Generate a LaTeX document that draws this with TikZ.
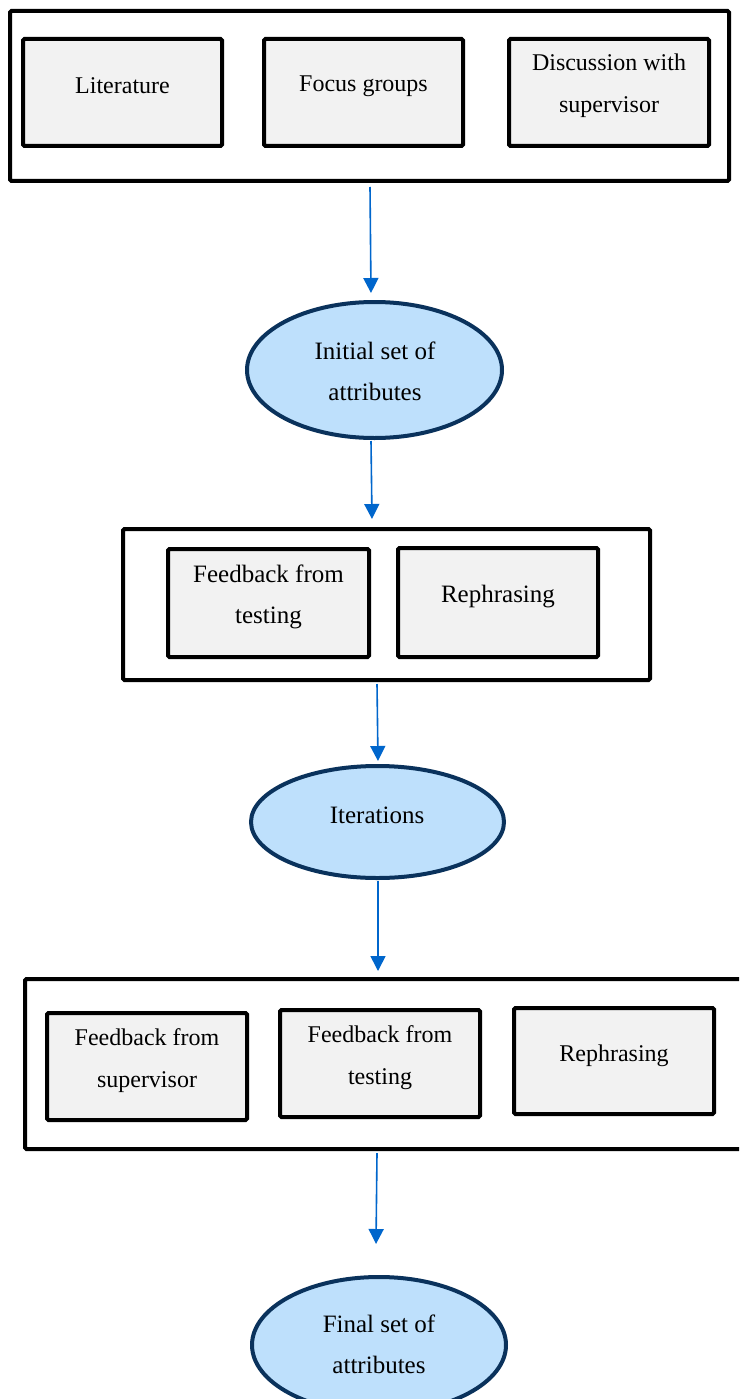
\documentclass[tikz,border=0pt]{standalone}
\usepackage{fontspec}
\setmainfont{Liberation Serif}
\usetikzlibrary{shapes.geometric,arrows.meta}
\definecolor{boxfill}{RGB}{242,242,242}
\definecolor{ellfill}{RGB}{190,224,252}
\definecolor{elldraw}{RGB}{10,50,92}
\definecolor{arrblue}{RGB}{0,102,204}
\begin{document}
\begin{tikzpicture}[x=1pt,y=-1pt,
  outerbox/.style={draw=black, line width=4pt, rounded corners=1.5pt, fill=white, inner sep=0pt},
  innerbox/.style={draw=black, line width=4pt, rounded corners=1.5pt, fill=boxfill, inner sep=0pt},
  oval/.style={ellipse, draw=elldraw, fill=ellfill, line width=4pt, inner sep=0pt},
  btxt/.style={align=center, inner sep=0pt, font=\fontsize{24}{42}\selectfont},
  ctxt/.style={align=center, inner sep=0pt, font=\fontsize{25}{41}\selectfont},
  arr/.style={draw=arrblue, line width=1.6pt, -{Triangle[length=15pt,width=15pt]}}
]
\clip (0,0) rectangle (739,1399);
\fill[white] (0,0) rectangle (739,1399);

% ---- top group
\node[outerbox, minimum width=719pt, minimum height=170pt] (g1) at (369.5,96) {};
\node[innerbox, minimum width=199pt, minimum height=107pt] (lit) at (122.5,92.5) {};
\node[innerbox, minimum width=199pt, minimum height=107pt] (foc) at (363.5,92.5) {};
\node[innerbox, minimum width=200pt, minimum height=107pt] (dis) at (609,92.5) {};
\node[btxt] (tlit) at (122.5,86) {Literature};
\node[btxt] (tfoc) at (363.5,86) {Focus groups};
\node[btxt] (tdis) at (609,86) {Discussion with\\supervisor};

% ---- ellipse 1
\node[oval, minimum width=255pt, minimum height=136pt] (e1) at (374.5,370) {};
\node[ctxt] (te1) at (375,371.5) {Initial set of\\attributes};

% ---- middle group
\node[outerbox, minimum width=527pt, minimum height=151pt] (g2) at (386.5,604.5) {};
\node[innerbox, minimum width=201pt, minimum height=108pt] (fbt1) at (268.5,603) {};
\node[innerbox, minimum width=200pt, minimum height=109pt] (reph1) at (498,602.5) {};
\node[ctxt] (tfbt1) at (268.5,597) {Feedback from\\testing};
\node[ctxt] (treph1) at (498,597) {Rephrasing};

% ---- ellipse 2
\node[oval, minimum width=253pt, minimum height=112pt] (e2) at (377.5,822) {};
\node[ctxt] (te2) at (377,815) {Iterations};

% ---- bottom group
\node[outerbox, minimum width=745pt, minimum height=170pt] (g3) at (397.5,1064) {};
\node[innerbox, minimum width=200pt, minimum height=107pt] (fbs) at (147,1066.5) {};
\node[innerbox, minimum width=200pt, minimum height=107pt] (fbt2) at (380,1063.5) {};
\node[innerbox, minimum width=200pt, minimum height=106pt] (reph2) at (614,1061) {};
\node[btxt] (tfbs) at (147,1060.5) {Feedback from\\supervisor};
\node[btxt] (tfbt2) at (380,1058) {Feedback from\\testing};
\node[btxt] (treph2) at (614,1056) {Rephrasing};

% ---- ellipse 3
\node[oval, minimum width=254pt, minimum height=136pt] (e3) at (379,1345) {};
\node[ctxt] (te3) at (379,1344.5) {Final set of\\attributes};

% ---- arrows
\draw[arr] ([xshift=0.5pt,yshift=-4pt]g1.south) -- ([xshift=-3.5pt,yshift=7pt]e1.north);
\draw[arr] ([xshift=-3.5pt,yshift=-1pt]e1.south) -- ([xshift=-14.5pt,yshift=8pt]g2.north);
\draw[arr] ([xshift=-9.5pt,yshift=-2pt]g2.south) -- ([xshift=0.5pt,yshift=3pt]e2.north);
\draw[arr] ([xshift=0.5pt,yshift=-1pt]e2.south) -- ([xshift=-19.5pt,yshift=6pt]g3.north);
\draw[arr] ([xshift=-20.5pt,yshift=-2pt]g3.south) -- ([xshift=-3pt,yshift=31pt]e3.north);
\end{tikzpicture}
\end{document}
